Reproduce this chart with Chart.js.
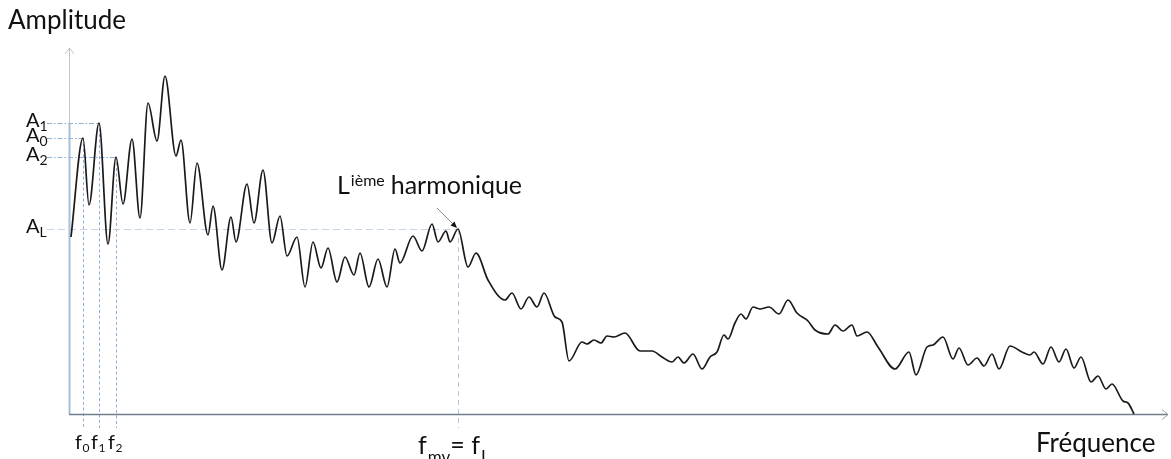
<!DOCTYPE html>
<html>
<head>
<meta charset="utf-8">
<script src="https://cdn.jsdelivr.net/npm/chart.js@4.4.1/dist/chart.umd.min.js"></script>
<style>
  html, body { margin: 0; padding: 0; background: #ffffff; overflow: hidden; }
  #wrap { width: 1171px; height: 459px; position: relative; }
</style>
</head>
<body>
<div id="wrap"><canvas id="spectrum" width="1171" height="459"></canvas></div>
<script>
// Spectrum samples: frequency (arbitrary units) and amplitude (arbitrary units)
const frequency = [
  2, 14, 20, 30, 39, 47, 54, 63, 71, 79, 88, 96, 107, 112, 121, 128, 139, 144, 153, 162,
  167, 178, 185, 194, 203, 211, 218, 228, 236, 244, 252, 259, 268, 276, 285, 291, 300, 309, 318, 326,
  331, 344, 353, 363, 369, 377, 381, 389, 399, 407, 419, 436, 443, 452, 460, 468, 475, 486, 493, 500,
  513, 518, 525, 532, 538, 545, 556, 571, 583, 593, 603, 609, 615, 624, 633, 641, 648, 655, 659, 666,
  672, 677, 684, 691, 700, 710, 719, 728, 739, 746, 759, 766, 774, 783, 788, 798, 809, 826, 840, 847,
  858, 864, 874, 884, 890, 899, 908, 915, 923, 930, 941, 953, 961, 965, 974, 982, 990, 997, 1005, 1012,
  1022, 1029, 1037, 1043, 1054, 1059, 1065
];
const amplitude = [
  177, 276, 209, 291, 170, 257, 210, 275, 196, 311, 273, 338, 258, 274, 191, 251, 179, 208, 144, 197,
  172, 230, 191, 244, 171, 198, 158, 177, 127, 172, 146, 166, 132, 157, 139, 161, 127, 155, 127, 165,
  151, 178, 163, 190, 172, 183, 172, 185, 147, 161, 134, 114, 121, 105, 117, 107, 121, 97, 92, 53,
  72, 70, 74, 71, 78, 77, 81, 63, 63, 57, 52, 57, 51, 60, 45, 57, 62, 79, 75, 91,
  100, 95, 107, 105, 107, 100, 114, 101, 93, 84, 80, 89, 83, 89, 78, 82, 67, 45, 62, 39,
  67, 69, 77, 55, 66, 49, 56, 48, 60, 45, 68, 62, 59, 62, 50, 67, 52, 65, 46, 57,
  32, 38, 25, 30, 13, 11, 0
];
// Marked harmonics f0, f1, f2 and the L-th harmonic
const harmonicNames = ['0', '1', '2'];
const harmonicFreqs = [14, 30, 47];
const lastHarmonicFreq = 389;
// Axis extents
const freqMax = 1099;
const ampMax = 366;

const FONT = 'Lato, "Open Sans", sans-serif';
const points = frequency.map((f, i) => ({ x: f, y: amplitude[i] }));
const ampAt = f => amplitude[frequency.indexOf(f)];

// Writes a sequence of text runs (base, sub-/superscripts) left to right
function drawRuns(ctx, x, y, runs) {
  let cx = x;
  runs.forEach(r => {
    ctx.font = `${r.size}px ${FONT}`;
    ctx.fillText(r.t, cx, y + (r.dy || 0));
    cx += ctx.measureText(r.t).width + (r.gap || 0);
  });
  return cx;
}

function dashedLine(ctx, x1, y1, x2, y2, dash, color, width) {
  ctx.save();
  ctx.setLineDash(dash);
  ctx.strokeStyle = color;
  ctx.lineWidth = width || 1;
  ctx.beginPath();
  ctx.moveTo(x1, y1);
  ctx.lineTo(x2, y2);
  ctx.stroke();
  ctx.restore();
}

const guides = {
  id: 'guides',
  beforeDatasetsDraw(chart) {
    const { ctx, chartArea: a, scales: { x, y } } = chart;
    ctx.save();
    const x0 = x.getPixelForValue(0);
    const y0 = y.getPixelForValue(0);
    const yTop = y.getPixelForValue(ampMax);
    const xEnd = x.getPixelForValue(freqMax);

    // amplitude guides for f0, f1, f2 (dash-dot) and their frequency drops
    harmonicFreqs.forEach(f => {
      const px = x.getPixelForValue(f);
      const py = y.getPixelForValue(ampAt(f));
      dashedLine(ctx, a.left - 22, py + 0.5, px, py + 0.5, [5, 2, 1.5, 2], '#8fb0d4', 1);
      dashedLine(ctx, Math.round(px) + 0.5, py, Math.round(px) + 0.5, y0 + 14, [3, 2.5], '#8fb0d4', 1);
    });
    // L-th harmonic guides
    const lx = x.getPixelForValue(lastHarmonicFreq);
    const ly = y.getPixelForValue(ampAt(lastHarmonicFreq));
    dashedLine(ctx, a.left - 22, ly + 0.5, lx, ly + 0.5, [7, 4], '#c4d4e6', 1);
    dashedLine(ctx, Math.round(lx) + 0.5, ly, Math.round(lx) + 0.5, y0 + 14, [5, 4], '#aac8e6', 1);

    // amplitude axis with arrow
    ctx.strokeStyle = '#c3c3c3';
    ctx.lineWidth = 1;
    ctx.beginPath();
    ctx.moveTo(x0 + 0.5, y0);
    ctx.lineTo(x0 + 0.5, yTop);
    ctx.moveTo(x0 - 4, yTop + 6);
    ctx.lineTo(x0 + 0.5, yTop);
    ctx.lineTo(x0 + 5, yTop + 6);
    ctx.stroke();
    // tinted segment of the amplitude axis below the harmonic levels
    const topHarm = y.getPixelForValue(Math.max(...harmonicFreqs.map(ampAt)));
    ctx.strokeStyle = '#a9bfd6';
    ctx.lineWidth = 2;
    ctx.beginPath();
    ctx.moveTo(x0 + 0.5, topHarm);
    ctx.lineTo(x0 + 0.5, y0);
    ctx.stroke();

    // frequency axis with arrow
    ctx.strokeStyle = '#6f7d8c';
    ctx.lineWidth = 1.3;
    ctx.beginPath();
    ctx.moveTo(x0, y0 + 0.5);
    ctx.lineTo(xEnd, y0 + 0.5);
    ctx.stroke();
    ctx.strokeStyle = '#a0a0a0';
    ctx.lineWidth = 1;
    ctx.beginPath();
    ctx.moveTo(xEnd - 6, y0 - 4.5);
    ctx.lineTo(xEnd, y0 + 0.5);
    ctx.lineTo(xEnd - 6, y0 + 5.5);
    ctx.stroke();
    ctx.restore();
  },
  afterDatasetsDraw(chart) {
    const { ctx, chartArea: a, scales: { x, y } } = chart;
    const y0 = y.getPixelForValue(0);
    ctx.save();
    ctx.fillStyle = '#111111';
    ctx.textBaseline = 'alphabetic';

    // axis titles
    drawRuns(ctx, 8, 29, [{ t: 'Amplitude', size: 26 }]);
    drawRuns(ctx, 1036, 452, [{ t: 'Fréquence', size: 26 }]);

    // amplitude labels A0, A1, A2, AL
    const aLabels = harmonicNames.map((n, i) => ({ n, v: ampAt(harmonicFreqs[i]) }));
    aLabels.push({ n: 'L', v: ampAt(lastHarmonicFreq) });
    aLabels.forEach(l => {
      const py = y.getPixelForValue(l.v);
      drawRuns(ctx, a.left - 43, py + 4, [
        { t: 'A', size: 20 },
        { t: l.n, size: 14, dy: 4 }
      ]);
    });

    // frequency labels f0, f1, f2
    harmonicNames.forEach((n, i) => {
      const px = x.getPixelForValue(harmonicFreqs[i]);
      drawRuns(ctx, px - 8, y0 + 35, [
        { t: 'f', size: 20, gap: 0.5 },
        { t: n, size: 12, dy: 3 }
      ]);
    });

    // f_mv = f_L
    const lx = x.getPixelForValue(lastHarmonicFreq);
    drawRuns(ctx, lx - 40, y0 + 40, [
      { t: 'f', size: 25, gap: 1 },
      { t: 'mv', size: 17, dy: 9 },
      { t: '= f', size: 25, gap: 1 },
      { t: 'L', size: 17, dy: 9 }
    ]);

    // L-th harmonic caption and pointer
    const ly = y.getPixelForValue(ampAt(lastHarmonicFreq));
    drawRuns(ctx, lx - 121, ly - 35, [
      { t: 'L', size: 25, gap: 1 },
      { t: 'ième', size: 16, dy: -8, gap: 6 },
      { t: 'harmonique', size: 25 }
    ]);
    ctx.strokeStyle = '#8a8a8a';
    ctx.lineWidth = 1;
    ctx.beginPath();
    ctx.moveTo(lx - 21, ly - 21);
    ctx.lineTo(lx - 2, ly - 2);
    ctx.stroke();
    ctx.fillStyle = '#111111';
    ctx.beginPath();
    ctx.moveTo(lx - 1, ly - 1);
    ctx.lineTo(lx - 7.5, ly - 3.5);
    ctx.lineTo(lx - 3.5, ly - 7.5);
    ctx.closePath();
    ctx.fill();
    ctx.restore();
  }
};

new Chart(document.getElementById('spectrum'), {
  type: 'line',
  data: {
    datasets: [{
      data: points,
      borderColor: '#1a1a1a',
      borderWidth: 1.7,
      pointRadius: 0,
      cubicInterpolationMode: 'monotone',
      fill: false,
      clip: false
    }]
  },
  options: {
    responsive: false,
    animation: false,
    devicePixelRatio: 1,
    layout: { padding: { left: 69, right: 3, top: 48, bottom: 45 } },
    plugins: { legend: { display: false }, tooltip: { enabled: false } },
    scales: {
      x: { type: 'linear', min: 0, max: freqMax, display: false },
      y: { type: 'linear', min: 0, max: ampMax, display: false }
    }
  },
  plugins: [guides]
});
</script>
</body>
</html>
